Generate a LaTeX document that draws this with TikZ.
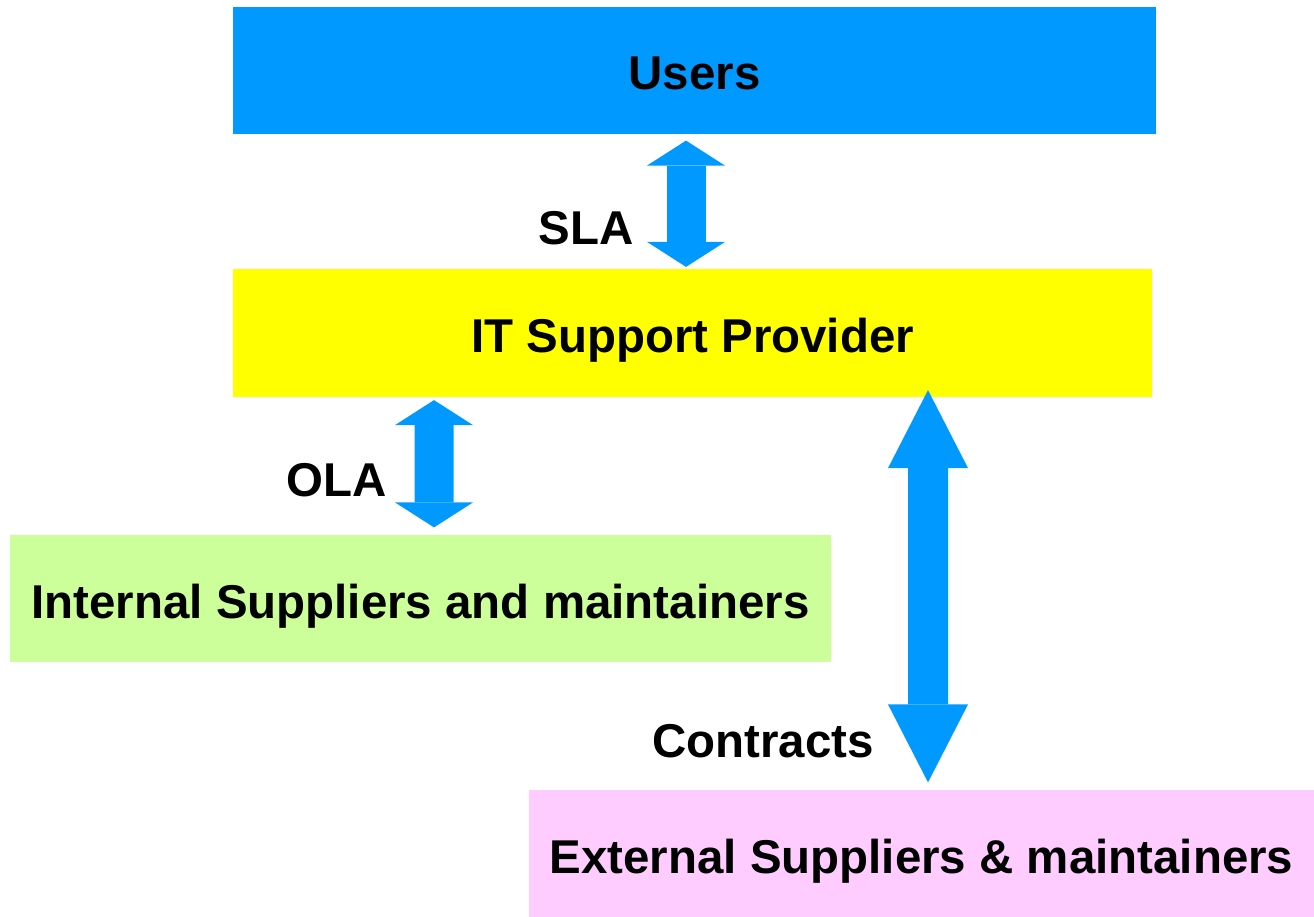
\documentclass[tikz,border=0pt]{standalone}
\usepackage{fontspec}
\setmainfont{Liberation Sans}
\usetikzlibrary{arrows.meta, positioning}

\definecolor{skyblue}{HTML}{0099FF}
\definecolor{lemon}{HTML}{FFFF00}
\definecolor{palegreen}{HTML}{CCFF99}
\definecolor{palepink}{HTML}{FFCCFF}

\begin{document}
\begin{tikzpicture}[
    party/.style={minimum height=2.55cm, inner sep=0pt, align=center,
                  text height=0.78cm, text depth=0cm,
                  font=\fontsize{27}{32}\selectfont\bfseries},
    agreement/.style={font=\fontsize{27}{32}\selectfont\bfseries, inner sep=0pt},
    shortarrow/.style={skyblue, line width=0.78cm,
                  {Triangle[length=0.5cm, width=1.56cm, line width=0pt]}-{Triangle[length=0.5cm, width=1.56cm, line width=0pt]}},
    longarrow/.style={skyblue, line width=0.8cm,
                  {Triangle[length=1.56cm, width=1.6cm, line width=0pt]}-{Triangle[length=1.56cm, width=1.6cm, line width=0pt]}},
]
\useasboundingbox (0,0) rectangle (26.28,-18.34);

\node[party, fill=skyblue,   minimum width=18.46cm] (users)    at (13.89,-1.41)  {Users};
\node[party, fill=lemon,     minimum width=18.38cm] (provider) at (13.85,-6.66)  {IT Support Provider};
\node[party, fill=palegreen, minimum width=16.42cm] (internal) at (8.41,-11.97)  {Internal Suppliers and maintainers};
\node[party, fill=palepink,  minimum width=15.70cm] (external) at (18.43,-17.07) {External Suppliers \& maintainers};

% agreements between the parties
\draw[shortarrow] ([xshift=-0.17cm, yshift=-0.12cm]users.south) -- ([xshift=-0.13cm, yshift=0.04cm]provider.north);
\draw[shortarrow] ([xshift=-5.17cm, yshift=-0.06cm]provider.south) -- ([xshift=0.27cm, yshift=0.14cm]internal.north);
\draw[longarrow]  ([xshift=4.71cm, yshift=0.14cm]provider.south) -- ([xshift=0.13cm, yshift=0.14cm]external.north);

\node[agreement] (sla)       at (11.72,-4.56)  {SLA};
\node[agreement] (ola)       at (6.74,-9.60)   {OLA};
\node[agreement] (contracts) at (15.26,-14.82) {Contracts};
\end{tikzpicture}
\end{document}
